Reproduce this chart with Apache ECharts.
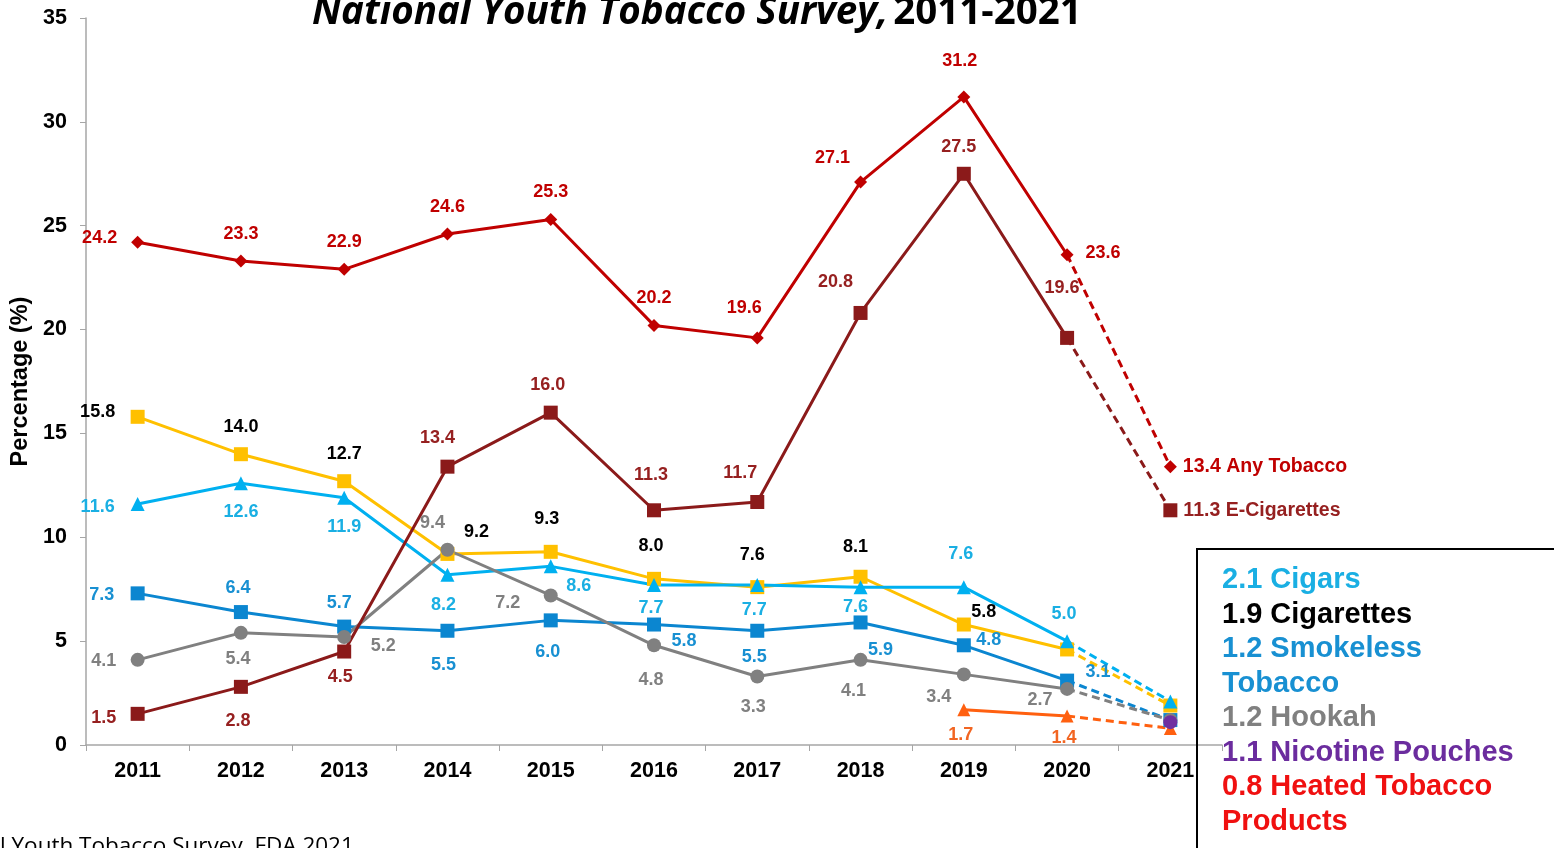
<!DOCTYPE html>
<html>
<head>
<meta charset="utf-8">
<script src="https://cdn.jsdelivr.net/npm/echarts@6/dist/echarts.min.js"></script>
<style>html,body{margin:0;padding:0;background:#fff;}#c{width:1554px;height:848px;}</style>
</head>
<body>
<div id="c"></div>
<script>
// ---- data ----
var years = ['2011','2012','2013','2014','2015','2016','2017','2018','2019','2020','2021'];
var anyTobacco   = [24.2, 23.3, 22.9, 24.6, 25.3, 20.2, 19.6, 27.1, 31.2, 23.6, 13.4];
var eCigarettes  = [1.5, 2.8, 4.5, 13.4, 16.0, 11.3, 11.7, 20.8, 27.5, 19.6, 11.3];
var cigarettes   = [15.8, 14.0, 12.7, 9.2, 9.3, 8.0, 7.6, 8.1, 5.8, 4.6, 1.9];
var cigars       = [11.6, 12.6, 11.9, 8.2, 8.6, 7.7, 7.7, 7.6, 7.6, 5.0, 2.1];
var smokeless    = [7.3, 6.4, 5.7, 5.5, 6.0, 5.8, 5.5, 5.9, 4.8, 3.1, 1.2];
var hookah       = [4.1, 5.4, 5.2, 9.4, 7.2, 4.8, 3.3, 4.1, 3.4, 2.7, 1.2];
var heated       = [null, null, null, null, null, null, null, null, 1.7, 1.4, 0.8];
var pouches      = [null, null, null, null, null, null, null, null, null, null, 1.1];
var yTicks = [0, 5, 10, 15, 20, 25, 30, 35];
var legendLines = [
  ['2.1 Cigars', '#1AAFE3'],
  ['1.9 Cigarettes', '#000000'],
  ['1.2 Smokeless', '#1890D2'],
  ['Tobacco', '#1890D2'],
  ['1.2 Hookah', '#808080'],
  ['1.1 Nicotine Pouches', '#6B2C9E'],
  ['0.8 Heated Tobacco', '#F01010'],
  ['Products', '#F01010']
];

// ---- label offsets (style) : [dx, dy] from point centre, null = no label ----
var offAny   = [[-38,-4],[0,-27],[0,-27],[0,-27],[0,-27],[0,-27],[-13,-30],[-28,-24],[-4,-36],[36,-2]];
var offEcig  = [[-34,4],[-3,34],[-4,26],[-10,-29],[-3,-28],[-3,-35],[-17,-29],[-25,-31],[-5,-27],[-5,-50]];
var offCigt  = [[-40,-5],[0,-27],[0,-27],[29,-22],[-4,-33],[-3,-33],[-5,-32],[-5,-30],[20,-12],null];
var offCigar = [[-40,3],[0,29],[0,29],[-4,30],[28,20],[-3,23],[-3,25],[-5,20],[-3,-33],[-3,-27]];
var offSmk   = [[-36,2],[-3,-24],[-5,-24],[-4,34],[-3,32],[30,17],[-3,26],[20,28],[25,-5],[31,-9]];
var offHook  = [[-34,1],[-3,26],[39,9],[-15,-27],[-43,8],[-3,35],[-4,31],[-7,31],[-25,23],[-27,11]];
var offHeat  = [null,null,null,null,null,null,null,null,[-3,25],[-3,22]];

var LABEL_FONT = {fontFamily:'"Liberation Sans", Arial, sans-serif', fontWeight:'bold', fontSize:18};
var END_FONT = {fontFamily:'"Liberation Sans", Arial, sans-serif', fontWeight:'bold', fontSize:19.5};

function solidData(vals, offs, labelColor){
  return vals.map(function(v,i){
    if (i === vals.length-1) return null;
    if (v === null) return null;
    var o = offs[i];
    var item = {value: v};
    if (o) {
      item.label = Object.assign({show:true, position:'inside', offset:o, color:labelColor,
        formatter: function(p){ return p.value.toFixed(1); }}, LABEL_FONT);
    } else {
      item.label = {show:false};
    }
    return item;
  });
}
function dashData(vals, endLabel, labelColor){
  var n = vals.length;
  return vals.map(function(v,i){
    if (i === n-2) return {value: v, symbol:'none', label:{show:false}};
    if (i === n-1) {
      var it = {value: v};
      if (endLabel) {
        it.label = Object.assign({show:true, position:'right', distance:6, color:labelColor,
          formatter: function(p){ return p.value.toFixed(1) + ' ' + endLabel; }}, END_FONT);
      } else it.label = {show:false};
      return it;
    }
    return null;
  });
}
function pair(name, vals, offs, color, labelColor, symbol, size, endLabel){
  return [
    {name:name, type:'line', data: solidData(vals, offs, labelColor), symbol:symbol, symbolSize:size,
     connectNulls:false, lineStyle:{color:color, width:3}, itemStyle:{color:color}, z:2},
    {name:name+' (2021)', type:'line', data: dashData(vals, endLabel, labelColor), symbol:symbol, symbolSize:size,
     connectNulls:false, lineStyle:{color:color, width:3, type:[8,5]}, itemStyle:{color:color}, z:2}
  ];
}

var series = [].concat(
  pair('Smokeless Tobacco', smokeless, offSmk, '#0B86D0', '#1890D2', 'rect', 14, null),
  pair('Cigarettes', cigarettes, offCigt, '#FFC000', '#000000', 'rect', 14, null),
  pair('Cigars', cigars, offCigar, '#00B0F0', '#1AAFE3', 'triangle', 14, null),
  pair('Hookah', hookah, offHook, '#808080', '#808080', 'circle', 14, null),
  pair('Heated Tobacco Products', heated, offHeat, '#FF6010', '#F26522', 'triangle', 13, null),
  pair('E-Cigarettes', eCigarettes, offEcig, '#8B1A1A', '#962020', 'rect', 14, 'E-Cigarettes'),
  pair('Any Tobacco', anyTobacco, offAny, '#C00000', '#C00000', 'diamond', 13, 'Any Tobacco'),
  [{name:'Nicotine Pouches', type:'line', data: pouches, symbol:'circle', symbolSize:14,
    itemStyle:{color:'#7030A0'}, lineStyle:{color:'#7030A0'}, label:{show:false}, z:3}]
);

var graphics = [
  {type:'rect', shape:{x:1197, y:549, width:420, height:340},
   style:{fill:'none', stroke:'#000', lineWidth:2}, z:10},
  {type:'text', x:0, y:835, style:{text:'l Youth Tobacco Survey, FDA 2021',
    font:'22.5px "Open Sans", sans-serif', fill:'#000', textVerticalAlign:'top'}, z:10}
];
legendLines.forEach(function(l, i){
  graphics.push({type:'text', x:1222, y:580 + i*34.5, z:11,
    style:{text:l[0], fill:l[1], font:'bold 29px "Liberation Sans", Arial, sans-serif',
      textVerticalAlign:'middle', textAlign:'left'}});
});

var chart = echarts.init(document.getElementById('c'), null, {renderer:'canvas'});
chart.setOption({
  animation:false,
  backgroundColor:'#ffffff',
  title:{
    text:'{i|National Youth Tobacco Survey,} {n|2011-2021}',
    left:307, top:-11,
    textStyle:{rich:{
      i:{fontFamily:'Open Sans', fontStyle:'italic', fontWeight:'bold', fontSize:38.5, color:'#000'},
      n:{fontFamily:'Open Sans', fontWeight:'bold', fontSize:38.5, color:'#000'}
    }}
  },
  grid:{left:86, right:332, top:18, bottom:103, containLabel:false},
  xAxis:{
    type:'category', data:years, boundaryGap:true,
    axisLine:{lineStyle:{color:'#A6A6A6', width:1.5}},
    axisTick:{show:true, length:6, lineStyle:{color:'#A6A6A6'}},
    axisLabel:{color:'#000', fontFamily:'"Liberation Sans", Arial', fontWeight:'bold', fontSize:21.5, margin:15},
    splitLine:{show:false}
  },
  yAxis:{
    type:'value', min:yTicks[0], max:yTicks[yTicks.length-1], interval:5,
    name:'Percentage (%)', nameLocation:'middle', nameGap:50, nameRotate:90,
    nameTextStyle:{color:'#000', fontFamily:'"Liberation Sans", Arial', fontWeight:'bold', fontSize:23.5},
    axisLine:{show:true, lineStyle:{color:'#A6A6A6', width:1.5}},
    axisTick:{show:true, length:6, lineStyle:{color:'#A6A6A6'}},
    axisLabel:{color:'#000', fontFamily:'"Liberation Sans", Arial', fontWeight:'bold', fontSize:21.5, margin:19},
    splitLine:{show:false}
  },
  series: series,
  graphic: graphics
});
</script>
</body>
</html>
